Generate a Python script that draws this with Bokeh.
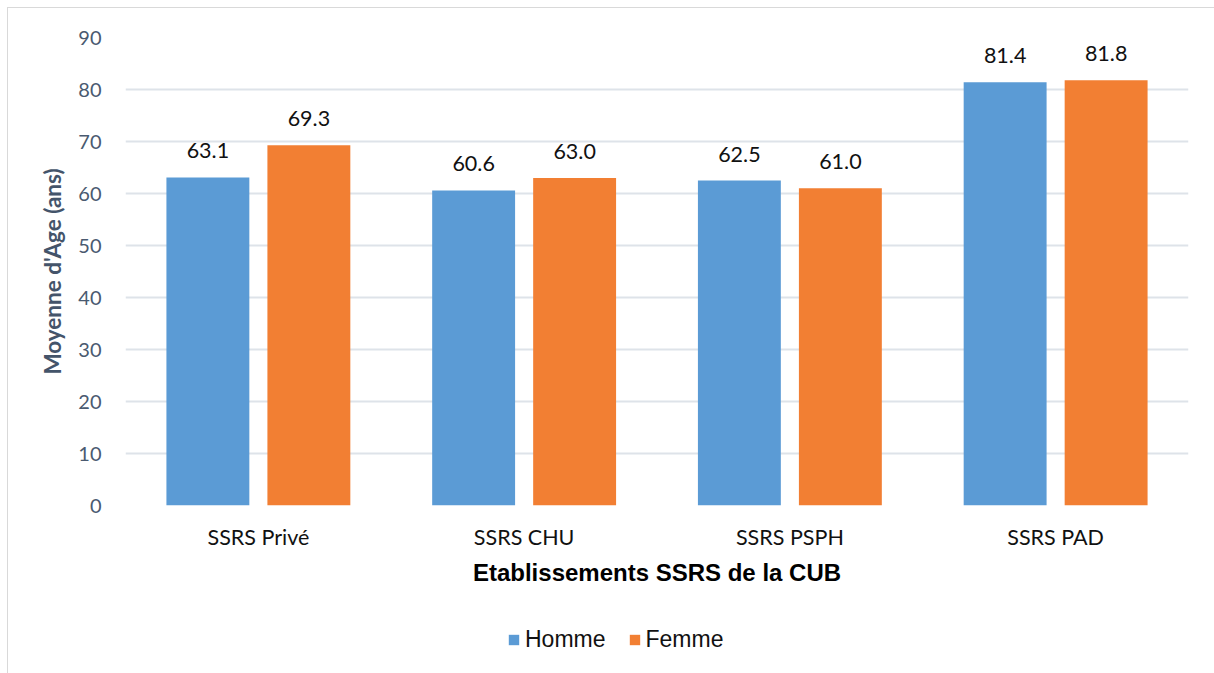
from bokeh.plotting import figure
from bokeh.layouts import column
from bokeh.models import (ColumnDataSource, Range1d, FactorRange, FixedTicker,
                          LabelSet, Legend, LegendItem)
from bokeh.core.properties import value
from bokeh.transform import dodge
from bokeh.embed import file_html
from bokeh.resources import INLINE

# ---- data ----
categories = ["SSRS Privé", "SSRS CHU", "SSRS PSPH", "SSRS PAD"]
homme = [63.1, 60.6, 62.5, 81.4]
femme = [69.3, 63.0, 61.0, 81.8]
series_names = ["Homme", "Femme"]
y_ticks = [0, 10, 20, 30, 40, 50, 60, 70, 80, 90]

BLUE = "#5B9BD5"
ORANGE = "#F27F33"

src = ColumnDataSource(dict(
    cat=categories,
    homme=homme,
    femme=femme,
    homme_lbl=[f"{v:.1f}" for v in homme],
    femme_lbl=[f"{v:.1f}" for v in femme],
))

p = figure(
    x_range=FactorRange(factors=categories, range_padding=0),
    y_range=Range1d(0, 90),
    width=1206, height=592,
    output_backend="svg", toolbar_location=None,
    min_border_left=117, min_border_right=26,
    min_border_top=29, min_border_bottom=95,
)
p.outline_line_color = None
p.background_fill_color = "white"
p.border_fill_color = "white"

p.vbar(x=dodge("cat", -0.19, range=p.x_range), top="homme", width=0.312,
       source=src, fill_color=BLUE, line_color=None)
p.vbar(x=dodge("cat", 0.19, range=p.x_range), top="femme", width=0.312,
       source=src, fill_color=ORANGE, line_color=None)

for off, col, lbl in [(-0.19, "homme", "homme_lbl"), (0.19, "femme", "femme_lbl")]:
    ls = LabelSet(x=dodge("cat", off, range=p.x_range), y=col, text=lbl, source=src,
                  text_align="center", text_baseline="alphabetic", y_offset=19,
                  text_font=value("Lato"), text_font_size="21.5px", text_color="#111111")
    p.add_layout(ls)

# y axis
p.yaxis.ticker = FixedTicker(ticks=y_ticks)
p.yaxis.axis_line_color = None
p.yaxis.major_tick_line_color = None
p.yaxis.minor_tick_line_color = None
p.yaxis.major_label_standoff = 18
p.yaxis.major_label_text_font = "Lato"
p.yaxis.major_label_text_font_size = "20px"
p.yaxis.major_label_text_color = "#4A5A70"
p.yaxis.axis_label = "Moyenne d'Age (ans)"
p.yaxis.axis_label_text_font = "Lato"
p.yaxis.axis_label_text_font_style = "bold"
p.yaxis.axis_label_text_font_size = "22.5px"
p.yaxis.axis_label_text_color = "#44546A"
p.yaxis.axis_label_standoff = 9

# x axis
p.xaxis.axis_line_color = None
p.xaxis.major_tick_line_color = None
p.xaxis.minor_tick_line_color = None
p.xaxis.major_label_standoff = 12
p.xaxis.major_label_text_font = "Lato"
p.xaxis.major_label_text_font_size = "21.5px"
p.xaxis.major_label_text_color = "#111111"
p.xaxis.axis_label = "Etablissements SSRS de la CUB"
p.xaxis.axis_label_text_font = "Liberation Sans"
p.xaxis.axis_label_text_font_style = "bold"
p.xaxis.axis_label_text_font_size = "24px"
p.xaxis.axis_label_text_color = "#000000"
p.xaxis.axis_label_standoff = 6

# grid
p.xgrid.grid_line_color = None
p.ygrid.grid_line_color = "#DEE3E9"
p.ygrid.grid_line_width = 2

# ---- legend (separate strip below the chart) ----
lf = figure(x_range=FactorRange(factors=categories), y_range=Range1d(0, 90),
            width=1206, height=73, output_backend="svg", toolbar_location=None,
            x_axis_type=None, y_axis_type=None, min_border=0)
lf.outline_line_color = None
lf.background_fill_color = "white"
lf.border_fill_color = "white"
lf.xgrid.grid_line_color = None
lf.ygrid.grid_line_color = None
# hidden renderers: only their legend swatches are shown
lr1 = lf.vbar(x="cat", top="homme", width=0.3, source=src,
              fill_color=BLUE, line_color=None, visible=False)
lr2 = lf.vbar(x="cat", top="femme", width=0.3, source=src,
              fill_color=ORANGE, line_color=None, visible=False)

legend = Legend(items=[LegendItem(label=series_names[0], renderers=[lr1]),
                       LegendItem(label=series_names[1], renderers=[lr2])],
                orientation="horizontal", location=(382, 20))
legend.border_line_color = None
legend.background_fill_alpha = 0
legend.inactive_fill_alpha = 0
legend.padding = 0
legend.margin = 0
legend.spacing = 22
legend.glyph_width = 13
legend.glyph_height = 13
legend.label_standoff = 5
legend.label_text_font = "Liberation Sans"
legend.label_text_font_size = "23px"
legend.label_text_color = "#111111"
legend.click_policy = "none"
lf.add_layout(legend, "center")

layout = column(p, lf, spacing=0)
layout.styles = {"margin-left": "7px", "margin-top": "7px",
                 "border-left": "1px solid #D9D9D9", "border-top": "1px solid #D9D9D9"}

open("out.html", "w").write(file_html(layout, INLINE))
